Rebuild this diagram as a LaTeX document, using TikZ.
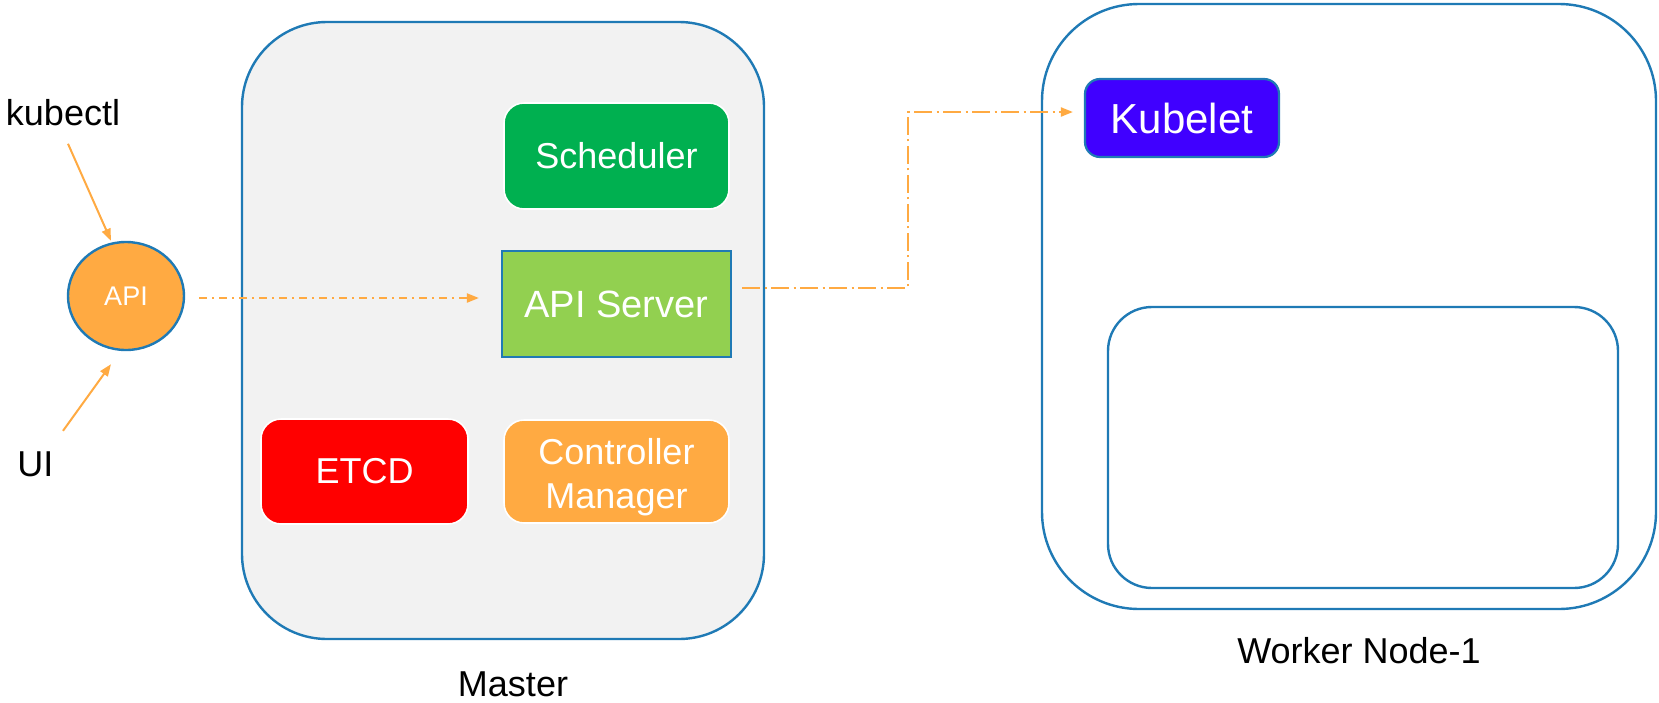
\documentclass[tikz,border=0pt]{standalone}
\usepackage{fontspec}
\setmainfont{Liberation Sans}
\usetikzlibrary{arrows.meta,calc,shapes.geometric}
\definecolor{bline}{RGB}{31,122,181}
\definecolor{mfill}{RGB}{242,242,242}
\definecolor{sgreen}{RGB}{0,176,80}
\definecolor{lgreen}{RGB}{146,208,80}
\definecolor{korange}{RGB}{255,170,66}
\definecolor{kblue}{RGB}{64,0,255}
\definecolor{kred}{RGB}{255,0,0}
\tikzset{
  container/.style={draw=bline, line width=1.2pt, inner sep=0pt},
  comp/.style={inner sep=0pt, text=white, align=center, font=\fontsize{18pt}{22pt}\selectfont},
  lbl/.style={inner sep=0pt, anchor=base, font=\fontsize{18pt}{22pt}\selectfont},
  orarrow/.style={draw=korange, line width=1pt, -{Triangle[length=6pt,width=4.5pt]}},
  dashA/.style={dash pattern=on 4pt off 2.5pt on 1pt off 2.5pt},
  dashB/.style={dash pattern=on 9pt off 2.25pt on 1pt off 2.25pt},
}
\begin{document}
\begin{tikzpicture}[x=0.5pt,y=-0.5pt]
\useasboundingbox (0,0) rectangle (1659,702);
% containers
\node[container, fill=mfill, rounded corners=42.5pt, minimum width=261pt, minimum height=308.5pt] (master) at (503,330.5) {};
\node[container, rounded corners=48.5pt, minimum width=307pt, minimum height=302.5pt] (worker) at (1349,306.5) {};
\node[container, rounded corners=22pt, minimum width=255pt, minimum height=140.5pt] (inner) at (1363,447.5) {};
% master components
\node[comp, fill=sgreen, draw=white, line width=0.8pt, rounded corners=10pt, minimum width=112.5pt, minimum height=53pt] (sched) at (616.5,156) {Scheduler};
\node[comp, fill=lgreen, draw=bline, line width=1.1pt, minimum width=114.5pt, minimum height=53pt, font=\fontsize{19pt}{22pt}\selectfont] (apis) at (616.5,304) {API Server};
\node[comp, fill=kred, draw=white, line width=0.8pt, rounded corners=10pt, minimum width=103.5pt, minimum height=52.5pt] (etcd) at (364.5,471.5) {ETCD};
\node[comp, fill=korange, draw=white, line width=0.8pt, rounded corners=10pt, minimum width=112.5pt, minimum height=51.5pt] (ctrl) at (616.5,471.5) {};
\node[comp] (ctrltext) at ($(ctrl.center)+(0,6)$) {Controller\\Manager};
% worker component
\node[comp, fill=kblue, draw=bline, line width=1.1pt, rounded corners=7.5pt, minimum width=97pt, minimum height=39pt, font=\fontsize{21pt}{25pt}\selectfont] (kubelet) at (1182,118) {Kubelet};
% API ellipse
\node[ellipse, draw=bline, line width=1.2pt, fill=korange, text=white, inner sep=0pt, minimum width=58pt, minimum height=54pt, font=\fontsize{13.5pt}{16pt}\selectfont] (api) at (126,296) {API};
% labels
\node[lbl] (kubectl) at (63,125) {kubectl};
\node[lbl] (ui) at (35.5,476) {UI};
\node[lbl] (mlabel) at (513,696) {Master};
\node[lbl] (wlabel) at (1359,663) {Worker Node-1};
% connectors
\draw[orarrow] ($(kubectl.south)+(5,18)$) -- ($(api.north)+(-15,0)$);
\draw[orarrow] ($(ui.north)+(27.5,-20)$) -- ($(api.south)+(-15,13)$);
\draw[orarrow, dashA] ($(api.east)+(14,2)$) -- ($(apis.west)+(-22,-6)$);
\coordinate (bend1) at (908,288);
\coordinate (bend2) at (908,112);
\draw[orarrow, dashB] ($(apis.east)+(10,-16)$) -- (bend1) -- (bend2) -- ($(kubelet.west)+(-11,-6)$);
\end{tikzpicture}
\end{document}
